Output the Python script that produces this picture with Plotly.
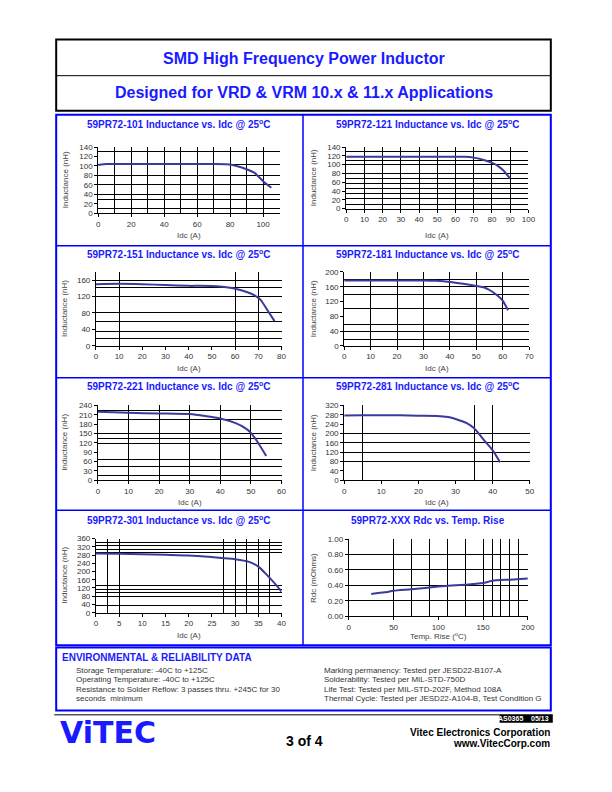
import plotly.graph_objects as go

W, H = 612, 792

# ---------------- data ----------------
idc_101 = [0, 5, 10, 20, 30, 40, 50, 60, 70, 80, 85, 90, 95, 100, 105]
ind_101 = [102, 104, 104, 104, 104, 104, 104, 104, 104, 103, 99, 93, 85, 68, 54]

idc_121 = [0, 10, 20, 30, 40, 50, 60, 65, 70, 75, 80, 83, 86, 90]
ind_121 = [118, 118, 118, 118, 118, 118, 118, 118, 116, 111, 104, 98, 88, 68]

idc_151 = [0, 10, 20, 30, 40, 45, 52, 57, 60, 65, 68, 71, 74, 77]
ind_151 = [150, 151, 150, 148, 146, 146, 145, 142, 139, 131, 124, 112, 86, 60]

idc_181 = [0, 10, 20, 30, 35, 40, 45, 50, 53, 55, 58, 60, 62]
ind_181 = [177, 177, 177, 177, 176, 173, 168, 162, 158, 151, 136, 122, 96]

idc_221 = [0, 5, 10, 20, 30, 35, 40, 45, 48, 50, 52, 55]
ind_221 = [220, 218, 216, 214, 212, 206, 198, 183, 168, 152, 125, 78]

idc_281 = [0, 5, 10, 15, 20, 25, 28, 30, 33, 35, 38, 40, 42]
ind_281 = [277, 278, 278, 278, 276, 275, 270, 262, 244, 222, 165, 128, 77]

idc_301 = [0, 5, 10, 15, 20, 25, 30, 33, 35, 37, 39, 40]
ind_301 = [288, 286, 284, 281, 278, 270, 260, 247, 224, 180, 130, 102]

temp_rise = [25, 40, 50, 70, 100, 130, 150, 160, 180, 200]
rdc_mohm = [0.29, 0.31, 0.33, 0.35, 0.385, 0.41, 0.43, 0.46, 0.475, 0.49]

part_names = ["59PR72-101", "59PR72-121", "59PR72-151", "59PR72-181",
              "59PR72-221", "59PR72-281", "59PR72-301"]

env_left = ["Storage Temperature: -40C to +125C",
            "Operating Temperature: -40C to +125C",
            "Resistance to Solder Reflow: 3 passes thru. +245C for 30",
            "seconds  minimum"]
env_right = ["Marking permanency: Tested per JESD22-B107-A",
             "Solderability: Tested per MIL-STD-750D",
             "Life Test: Tested per MIL-STD-202F, Method 108A",
             "Thermal Cycle: Tested per JESD22-A104-B, Test Condition G"]

BLUE = "#1a1aff"
LINE = "#3a3a9c"
FONT = "Liberation Sans, Arial, sans-serif"


def px(x):
    return x / W


def py(y):
    return 1 - y / H


charts = [
    dict(x=idc_101, y=ind_101, xr=[0, 110], xt=list(range(0, 101, 20)), yr=[0, 140],
         yt=list(range(0, 141, 20)), xg=list(range(10, 111, 10)), yg=[10, 30, 40, 60, 80, 104, 130],
         box=(97.7, 144.7, 281.7, 211.7), col=0, ty=121, xty=234, fmt=None),
    dict(x=idc_121, y=ind_121, xr=[0, 100], xt=list(range(0, 101, 10)), yr=[0, 140],
         yt=list(range(0, 141, 20)), xg=list(range(10, 101, 10)), yg=[10, 22, 35, 46, 57, 68, 80, 100, 109, 130],
         box=(349.3, 144.7, 534.3, 207.0), col=1, ty=121, xty=234, fmt=None),
    dict(x=idc_151, y=ind_151, xr=[0, 80], xt=list(range(0, 81, 10)), yr=[0, 180],
         yt=list(range(0, 161, 40)), xg=[10, 60, 70, 80], yg=[18, 36, 58, 80, 120, 141, 160],
         box=(95.3, 271.0, 283.7, 345.7), col=0, ty=253, xty=369, fmt=None),
    dict(x=idc_181, y=ind_181, xr=[0, 70], xt=list(range(0, 71, 10)), yr=[0, 200],
         yt=list(range(0, 201, 40)), xg=list(range(10, 71, 10)), yg=[18, 39, 57, 100, 139, 160, 180],
         box=(347.3, 271.0, 535.0, 345.7), col=1, ty=253, xty=369, fmt=None),
    dict(x=idc_221, y=ind_221, xr=[0, 60], xt=list(range(0, 61, 10)), yr=[0, 240],
         yt=list(range(0, 241, 30)), xg=list(range(10, 61, 10)), yg=[15, 45, 67, 117, 135, 149, 195, 225],
         box=(97.3, 406.0, 283.7, 481.7), col=0, ty=386, xty=504, fmt=None),
    dict(x=idc_281, y=ind_281, xr=[0, 50], xt=list(range(0, 51, 10)), yr=[0, 320],
         yt=list(range(0, 321, 40)), xg=[5, 35, 40, 50], yg=[80, 120, 160, 200],
         box=(347.3, 406.0, 535.7, 481.7), col=1, ty=386, xty=504, fmt=None),
    dict(x=idc_301, y=ind_301, xr=[0, 40], xt=list(range(0, 41, 5)), yr=[0, 360],
         yt=list(range(0, 361, 40)), xg=[2.5, 5, 27.5, 30, 32.5, 35, 37.5, 40],
         yg=[34, 78, 98, 114, 130, 293, 309, 325, 341],
         box=(95.3, 540.7, 283.7, 615.7), col=0, ty=522, xty=639, fmt=None),
    dict(x=temp_rise, y=rdc_mohm, xr=[0, 200], xt=list(range(0, 201, 50)), yr=[0, 1.0],
         yt=[0, 0.2, 0.4, 0.6, 0.8, 1.0], xg=[50, 70, 90, 110, 130, 150, 160, 170, 180, 190, 200],
         yg=[0.2, 0.4, 0.6, 0.8, 1.0],
         box=(352.0, 541.3, 533.7, 619.3), col=1, ty=522, xty=639, fmt=".2f"),
]

fig = go.Figure()
annotations = []
shapes = []
layout_axes = {}


def note(x, y, text, size, color="black", bold=False, xanchor="center", family=FONT, angle=0):
    font = dict(family=family, size=size, color=color)
    if bold:
        font["weight"] = "bold"
    annotations.append(dict(x=px(x), y=py(y), xref="paper", yref="paper", text=text,
                            showarrow=False, xanchor=xanchor, yanchor="middle",
                            textangle=angle, font=font))


for i, c in enumerate(charts):
    n = i + 1
    xa = "x" if n == 1 else f"x{n}"
    ya = "y" if n == 1 else f"y{n}"
    fig.add_trace(go.Scatter(x=c["x"], y=c["y"], mode="lines", xaxis=xa, yaxis=ya,
                             line=dict(color=LINE, width=2, shape="spline", smoothing=0.6),
                             showlegend=False, hoverinfo="skip"))
    x0, y0, x1, y1 = c["box"]
    common = dict(showline=True, linecolor="black", linewidth=1, ticks="outside", ticklen=3,
                  tickcolor="black", tickwidth=1, showgrid=False, zeroline=False,
                  tickfont=dict(family=FONT, size=8, color="#333333"), tickmode="array")
    layout_axes[f"xaxis{'' if n == 1 else n}"] = dict(
        domain=[px(x0), px(x1)], range=c["xr"], tickvals=c["xt"], anchor=ya,
        minor=dict(tickmode="array", tickvals=c["xg"], showgrid=True, gridcolor="black",
                   gridwidth=1, ticks=""),
        **common)
    yax = dict(domain=[py(y1), py(y0)], range=c["yr"], tickvals=c["yt"], anchor=xa,
               minor=dict(tickmode="array", tickvals=c["yg"], showgrid=True, gridcolor="black",
                          gridwidth=1, ticks=""),
               **common)
    if c["fmt"]:
        yax["tickformat"] = c["fmt"]
    layout_axes[f"yaxis{'' if n == 1 else n}"] = yax

    tx = 180 if c["col"] == 0 else 432
    if i < 7:
        title = f"{part_names[i]} Inductance vs. Idc @ 25<sup>o</sup>C"
        xtitle = "Idc (A)"
        ytitle = "Inductance (nH)"
    else:
        title = "59PR72-XXX Rdc vs. Temp. Rise"
        xtitle = "Temp. Rise (<sup>o</sup>C)"
        ytitle = "Rdc (mOhms)"
    note(tx, c["ty"], title, 10, BLUE, bold=True)
    note((x0 + x1) / 2, c["xty"], xtitle, 8, "#444444")
    note(64 if c["col"] == 0 else 316, (y0 + y1) / 2, ytitle, 8, "#444444", angle=-90)


def rect(x0, y0, x1, y1, color, width, fill=None):
    shapes.append(dict(type="rect", xref="paper", yref="paper", x0=px(x0), x1=px(x1),
                       y0=py(y0), y1=py(y1), line=dict(color=color, width=width),
                       fillcolor=fill if fill else "rgba(0,0,0,0)", layer="above"))


def line(x0, y0, x1, y1, color, width):
    shapes.append(dict(type="line", xref="paper", yref="paper", x0=px(x0), x1=px(x1),
                       y0=py(y0), y1=py(y1), line=dict(color=color, width=width), layer="above"))


# header box
rect(55, 36, 557, 108, "black", 2)
line(55, 72.5, 557, 72.5, "black", 1)
note(306, 55, "SMD High Frequency Power Inductor", 16, BLUE, bold=True)
note(306, 90, "Designed for VRD &amp; VRM 10.x &amp; 11.x Applications", 16, BLUE, bold=True)

# chart area box
rect(55, 112, 557, 648.5, "#0000ff", 2)
line(305.5, 112, 305.5, 648.5, "#0000ff", 1.5)
for yy in (244.5, 378, 512):
    line(55, yy, 557, yy, "#0000ff", 1.5)

# environmental box
rect(55, 651, 557, 714.5, "#0000ff", 2)
note(59, 661, "ENVIRONMENTAL &amp; RELIABILITY DATA", 10, BLUE, bold=True, xanchor="left")
env_y = [674, 683.5, 693, 702.5]
for t, yy in zip(env_left, env_y):
    note(73, yy, t, 8, "#333333", xanchor="left")
for t, yy in zip(env_right, env_y):
    note(325, yy, t, 8, "#333333", xanchor="left")

# footer
line(53, 719, 559, 719, "black", 1)
rect(505, 719, 559, 727, "black", 0, fill="black")
note(557, 723, "AS0365&nbsp;&nbsp;&nbsp;&nbsp;05/13", 7, "white", bold=True, xanchor="right")
note(57, 737, "ViTEC", 30, BLUE, bold=True, xanchor="left", family="DejaVu Sans, sans-serif")
note(307, 745, "3 of 4", 14, "black", bold=True)
note(558, 736.5, "Vitec Electronics Corporation", 10, "black", bold=True, xanchor="right")
note(558, 748.5, "www.VitecCorp.com", 10, "black", bold=True, xanchor="right")

fig.update_layout(width=W, height=H, margin=dict(l=0, r=0, t=0, b=0),
                  paper_bgcolor="white", plot_bgcolor="white",
                  showlegend=False, annotations=annotations, shapes=shapes, **layout_axes)

fig.write_html("out.html", config={"displayModeBar": False})
